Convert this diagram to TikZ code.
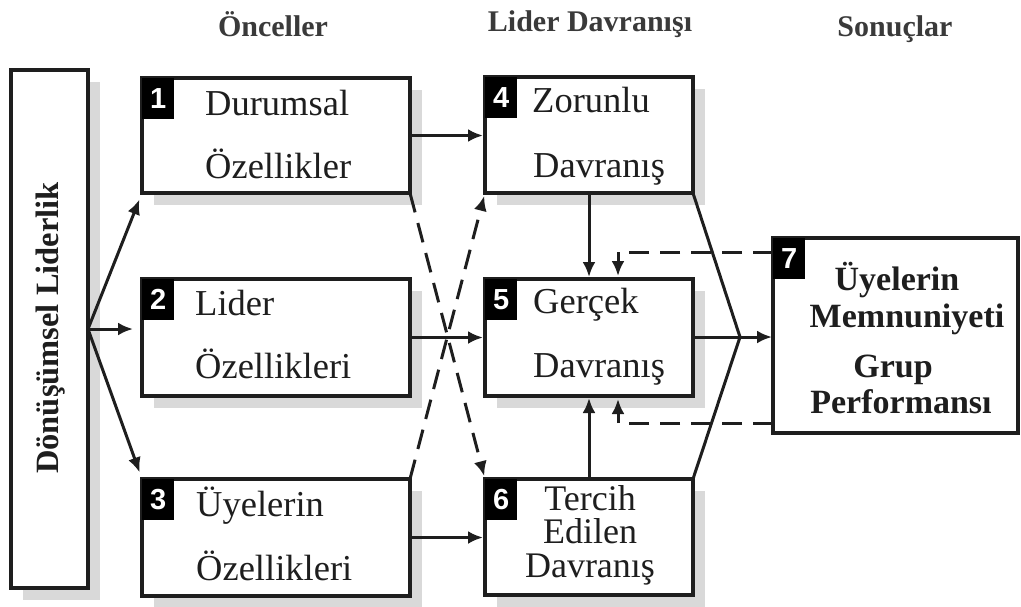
\documentclass[tikz,border=0pt]{standalone}
\usepackage{fontspec}
\setmainfont{Liberation Serif}
\newfontfamily\badgefont{Liberation Sans}
\usetikzlibrary{arrows.meta,shadows,calc}
\definecolor{shadowgray}{HTML}{D9D9D9}
\definecolor{ink}{HTML}{1E1E1E}
\definecolor{headgray}{HTML}{3A3A3A}
\begin{document}
\begin{tikzpicture}[x=1pt,y=-1pt,
  box/.style={draw=ink, line width=3.5pt, fill=white, anchor=north west,
    inner sep=0pt, outer sep=0pt,
    drop shadow={shadow xshift=12pt, shadow yshift=-12pt, fill=shadowgray, opacity=1}},
  plainbox/.style={draw=ink, line width=3.5pt, fill=white, anchor=north west,
    inner sep=0pt, outer sep=0pt},
  badge/.style={fill=black, text=white, anchor=north west, inner sep=0pt,
    minimum width=32pt, minimum height=41pt,
    font=\badgefont\bfseries\fontsize{29}{31}\selectfont},
  btext/.style={inner sep=0pt, anchor=base west, text=ink,
    font=\fontsize{36.5}{40}\selectfont},
  ctext/.style={inner sep=0pt, anchor=base, text=ink,
    font=\fontsize{36}{40}\selectfont},
  rtext/.style={inner sep=0pt, anchor=base, text=ink,
    font=\bfseries\fontsize{34}{38}\selectfont},
  head/.style={inner sep=0pt, anchor=base, text=headgray,
    font=\bfseries\fontsize{30}{34}\selectfont},
  arr/.style={draw=ink, line width=3pt, -{Latex[length=15pt,width=13pt]}},
  ln/.style={draw=ink, line width=3pt},
  darr/.style={draw=ink, line width=3pt, dash pattern=on 20pt off 11pt,
    -{Latex[length=15pt,width=13pt]}}
]
\useasboundingbox (0,0) rectangle (1021,606);

% headings
\node[head] (h1) at (273,36) {Önceller};
\node[head] (h2) at (590,31) {Lider Davranışı};
\node[head] (h3) at (895,36) {Sonuçlar};

% boxes
\node[box, minimum width=77pt, minimum height=518pt] (L) at (11,70) {};
\node[box, minimum width=268pt, minimum height=115pt] (b1) at (142,78) {};
\node[box, minimum width=268pt, minimum height=117pt] (b2) at (142,279) {};
\node[box, minimum width=268pt, minimum height=117pt] (b3) at (142,479) {};
\node[box, minimum width=208pt, minimum height=116pt] (b4) at (485,77) {};
\node[box, minimum width=208pt, minimum height=117pt] (b5) at (485,279) {};
\node[box, minimum width=208pt, minimum height=116pt] (b6) at (485,479) {};
\node[plainbox, minimum width=245pt, minimum height=195pt] (b7) at (773,238) {};

% badges
\node[badge] (n1) at (b1.north west) {1};
\node[badge] (n2) at (b2.north west) {2};
\node[badge] (n3) at (b3.north west) {3};
\node[badge] (n4) at (b4.north west) {4};
\node[badge] (n5) at (b5.north west) {5};
\node[badge] (n6) at (b6.north west) {6};
\node[badge] (n7) at (b7.north west) {7};

% left text
\node[rotate=90, inner sep=0pt, anchor=base, text=ink,
  font=\bfseries\fontsize{32.5}{36}\selectfont] (lt) at (58,328) {Dönüşümsel Liderlik};

% box texts
\node[btext] (t1a) at (205,115) {Durumsal};
\node[btext] (t1b) at (205,178) {Özellikler};
\node[btext] (t2a) at (195,315) {Lider};
\node[btext] (t2b) at (195,378) {Özellikleri};
\node[btext] (t3a) at (196,516) {Üyelerin};
\node[btext] (t3b) at (196,580) {Özellikleri};
\node[btext] (t4a) at (532,112) {Zorunlu};
\node[btext] (t4b) at (533,177) {Davranış};
\node[btext] (t5a) at (533,313) {Gerçek};
\node[btext] (t5b) at (533,377) {Davranış};
\node[ctext] (t6a) at (590,510) {Tercih};
\node[ctext] (t6b) at (590,543) {Edilen};
\node[ctext] (t6c) at (590,577) {Davranış};
\node[rtext] (t7a) at (897,290) {Üyelerin};
\node[rtext] (t7b) at (907,327) {Memnuniyeti};
\node[rtext] (t7c) at (893,377) {Grup};
\node[rtext] (t7d) at (901,413) {Performansı};

% coordinates
\coordinate (f) at (L.east);
\coordinate (m) at (740,337);
\coordinate (fbt) at (618,252);
\coordinate (fbb) at (618,423);

% fan arrows
\draw[arr, shorten >=7pt] (f) -- (b1.south west);
\draw[arr, shorten >=9pt] (f) -- (f -| b2.west);
\draw[arr, shorten >=7pt] (f) -- (b3.north west);

% horizontal arrows
\draw[arr, shorten >=2pt] (b1.east) -- (b1.east -| b4.west);
\draw[arr, shorten >=2pt] (b2.east) -- (b2.east -| b5.west);
\draw[arr, shorten >=2pt] (b3.east) -- (b3.east -| b6.west);

% vertical arrows
\draw[arr, shorten >=2pt] (b4.south) -- (b5.north);
\draw[arr, shorten >=2pt] (b6.north) -- (b5.south);

% dashed crossing arrows
\draw[darr, shorten >=3pt] (b1.south east) -- (b6.north west);
\draw[darr, shorten >=3pt] (b3.north east) -- (b4.south west);

% convergence to box 7
\draw[ln] (b4.south east) -- (m);
\draw[ln] (b6.north east) -- (m);
\draw[ln] (b5.east |- m) -- (m);
\draw[arr, shorten >=1pt] (m) -- (m -| b7.west);

% feedback dashed
\draw[darr, shorten >=3pt] (b7.west |- fbt) -- (fbt) -- (fbt |- b5.north);
\draw[darr, shorten >=3pt] (b7.west |- fbb) -- (fbb) -- (fbb |- b5.south);
\end{tikzpicture}
\end{document}
